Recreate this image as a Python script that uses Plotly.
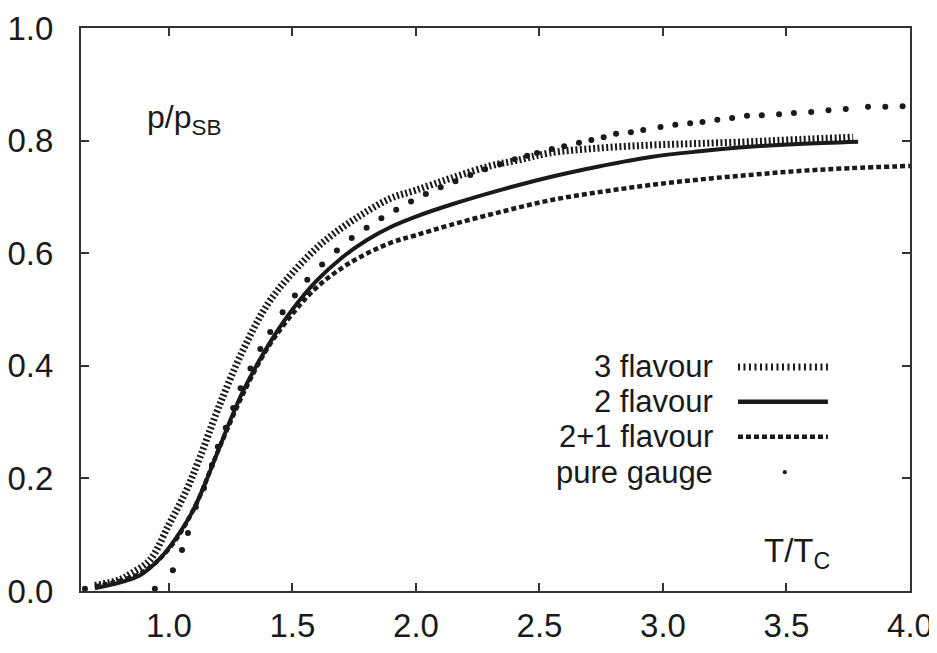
import plotly.graph_objects as go

# ---- data ----
x_3fl = [0.70, 0.80, 0.85, 0.923, 1.00, 1.07, 1.126, 1.20, 1.30, 1.40, 1.50, 1.62, 1.75, 1.895, 2.00,
         2.14, 2.30, 2.41, 2.54, 2.75, 2.95, 3.15, 3.35, 3.55, 3.77]
y_3fl = [0.010, 0.020, 0.032, 0.055, 0.118, 0.178, 0.238, 0.325, 0.428, 0.510, 0.565, 0.618, 0.660, 0.697, 0.712,
         0.733, 0.755, 0.765, 0.778, 0.787, 0.792, 0.795, 0.798, 0.802, 0.806]

x_2fl = [0.70, 0.80, 0.883, 0.964, 1.03, 1.10, 1.15, 1.20, 1.25, 1.30, 1.40, 1.50, 1.60, 1.70, 1.80, 1.90, 2.00,
         2.14, 2.34, 2.54, 2.75, 2.95, 3.15, 3.35, 3.55, 3.79]
y_2fl = [0.005, 0.015, 0.028, 0.058, 0.095, 0.145, 0.195, 0.250, 0.305, 0.355, 0.435, 0.500, 0.552, 0.592, 0.623, 0.647, 0.665,
         0.686, 0.712, 0.735, 0.755, 0.771, 0.781, 0.789, 0.794, 0.798]

x_21fl = [0.70, 0.80, 0.90, 1.00, 1.10, 1.20, 1.30, 1.40, 1.50, 1.60, 1.733, 1.895, 2.00, 2.138, 2.34, 2.543,
          2.75, 2.947, 3.15, 3.352, 3.55, 3.757, 4.00]
y_21fl = [0.008, 0.018, 0.035, 0.075, 0.145, 0.250, 0.350, 0.432, 0.492, 0.540, 0.583, 0.618, 0.632, 0.650, 0.673, 0.694,
          0.709, 0.721, 0.731, 0.739, 0.746, 0.751, 0.755]

x_gauge = [0.66, 0.943, 1.016, 1.053, 1.077, 1.109, 1.142, 1.174, 1.198, 1.23, 1.26, 1.29, 1.33, 1.37, 1.41, 1.46,
           1.51, 1.56, 1.62, 1.68, 1.74, 1.80, 1.86, 1.92, 1.98, 2.04, 2.10, 2.16, 2.22, 2.28, 2.34, 2.40, 2.45,
           2.49, 2.55, 2.60, 2.66, 2.71, 2.76, 2.81, 2.87, 2.92, 2.99, 3.05, 3.11, 3.16, 3.22, 3.28, 3.34, 3.40,
           3.47, 3.53, 3.60, 3.67, 3.74, 3.83, 3.90, 3.97]
y_gauge = [0.004, 0.004, 0.037, 0.073, 0.103, 0.149, 0.183, 0.224, 0.256, 0.290, 0.325, 0.360, 0.395, 0.430, 0.460, 0.495,
           0.525, 0.553, 0.580, 0.605, 0.627, 0.645, 0.662, 0.677, 0.692, 0.705, 0.717, 0.728, 0.739, 0.749, 0.758, 0.767, 0.773,
           0.778, 0.785, 0.790, 0.796, 0.801, 0.806, 0.812, 0.815, 0.819, 0.824, 0.828, 0.831, 0.833, 0.837, 0.840, 0.844, 0.845,
           0.847, 0.849, 0.851, 0.854, 0.856, 0.860, 0.860, 0.861]

x_ticks = [1.0, 1.5, 2.0, 2.5, 3.0, 3.5, 4.0]
y_ticks = [0.0, 0.2, 0.4, 0.6, 0.8, 1.0]
legend_names = ["3 flavour", "2 flavour", "2+1 flavour", "pure gauge"]

INK = "#1a1a1a"
FONT = "Liberation Sans, Arial, Helvetica, sans-serif"

fig = go.Figure()
fig.add_trace(go.Scatter(x=x_21fl, y=y_21fl, mode="lines", name=legend_names[2],
                         line=dict(color=INK, width=4.5, dash="5px,3px", shape="spline", smoothing=1.0)))
fig.add_trace(go.Scatter(x=x_2fl, y=y_2fl, mode="lines", name=legend_names[1],
                         line=dict(color=INK, width=4, shape="spline", smoothing=1.0)))
fig.add_trace(go.Scatter(x=x_3fl, y=y_3fl, mode="lines", name=legend_names[0],
                         line=dict(color=INK, width=7, dash="2px,2.4px", shape="spline", smoothing=1.0)))
fig.add_trace(go.Scatter(x=x_gauge, y=y_gauge, mode="markers", name=legend_names[3],
                         marker=dict(color=INK, size=6, symbol="circle")))

# ---- custom legend (text left of sample) ----
leg_y = [0.398, 0.336, 0.274, 0.211]
x_txt = 0.765
x0s, x1s = 0.7925, 0.901
shapes = []
annotations = []
for name, yy in zip(legend_names, leg_y):
    annotations.append(dict(text=name, xref="paper", yref="paper", x=x_txt, y=yy,
                            xanchor="right", yanchor="middle", showarrow=False,
                            font=dict(size=31, color=INK, family=FONT)))
shapes.append(dict(type="line", xref="paper", yref="paper", x0=x0s, x1=x1s, y0=leg_y[0], y1=leg_y[0],
                   line=dict(color=INK, width=7, dash="2px,3.5px")))
shapes.append(dict(type="line", xref="paper", yref="paper", x0=x0s, x1=x1s, y0=leg_y[1], y1=leg_y[1],
                   line=dict(color=INK, width=4.5)))
shapes.append(dict(type="line", xref="paper", yref="paper", x0=x0s, x1=x1s, y0=leg_y[2], y1=leg_y[2],
                   line=dict(color=INK, width=4.5, dash="5px,3px")))
cx, cy = 0.849, leg_y[3]
shapes.append(dict(type="circle", xref="paper", yref="paper", x0=cx - 0.0025, x1=cx + 0.0025,
                   y0=cy - 0.0037, y1=cy + 0.0037, fillcolor=INK, line=dict(width=0)))

annotations.append(dict(text="p/p<sub>SB</sub>", xref="paper", yref="paper", x=0.077, y=0.837,
                        xanchor="left", yanchor="middle", showarrow=False,
                        font=dict(size=32, color=INK, family=FONT)))
annotations.append(dict(text="T/T<sub>C</sub>", xref="paper", yref="paper", x=0.821, y=0.068,
                        xanchor="left", yanchor="middle", showarrow=False,
                        font=dict(size=33, color=INK, family=FONT)))

# the page body adds an 8px offset; margins compensate so the plot box sits at 81..910 x 28..591
fig.update_layout(
    width=929, height=645,
    margin=dict(l=73, r=27, t=20, b=62, autoexpand=False),
    paper_bgcolor="white", plot_bgcolor="white",
    showlegend=False,
    shapes=shapes, annotations=annotations,
    font=dict(family=FONT, color=INK),
)
fig.update_xaxes(range=[0.644, 4.0], tickvals=x_ticks, ticktext=[f"{v:.1f}" for v in x_ticks],
                 ticks="inside", ticklen=8, tickwidth=2, tickcolor="#333",
                 showline=True, linewidth=2, linecolor="#333", mirror="ticks",
                 showgrid=False, zeroline=False, ticklabelstandoff=4, automargin=False,
                 tickfont=dict(size=33, color=INK, family=FONT))
fig.update_yaxes(range=[0.0, 1.0], tickvals=y_ticks, ticktext=[f"{v:.1f}" for v in y_ticks],
                 ticks="inside", ticklen=8, tickwidth=2, tickcolor="#333",
                 showline=True, linewidth=2, linecolor="#333", mirror="ticks",
                 showgrid=False, zeroline=False, ticklabelstandoff=19, automargin=False,
                 tickfont=dict(size=33, color=INK, family=FONT))

fig.write_html("out.html")
